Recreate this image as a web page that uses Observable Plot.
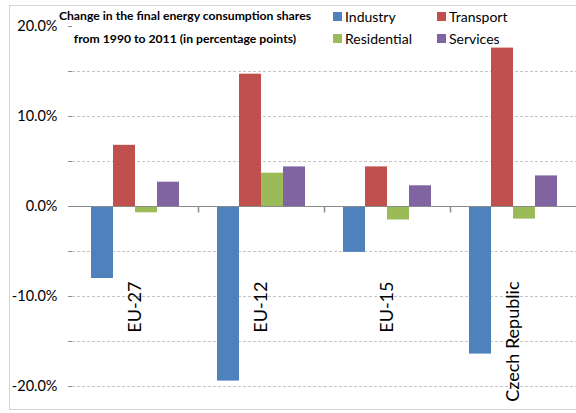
<!DOCTYPE html>
<html>
<head>
<meta charset="utf-8">
<script src="https://cdn.jsdelivr.net/npm/d3@7"></script>
<script src="https://cdn.jsdelivr.net/npm/@observablehq/plot@0.6"></script>
<style>
  html, body { margin: 0; padding: 0; background: #fff; }
  #wrap { position: relative; width: 576px; height: 413px; overflow: hidden; font-family: Lato, "DejaVu Sans", sans-serif; }
  #frame { position: absolute; left: 9px; top: 5px; width: 600px; height: 405px; border: 1px solid #d4d4d4; box-sizing: border-box; }
  .ttl { position: absolute; font-weight: bold; font-size: 12.2px; color: #000; white-space: nowrap; text-align: center; width: 320px; left: 25px; }
  .lg { position: absolute; font-size: 14px; color: #000; white-space: nowrap; line-height: 1; }
  .sw { position: absolute; width: 9px; height: 9px; }
  svg { position: absolute; left: 0; top: 0; }
</style>
</head>
<body>
<div id="wrap">
  <div id="frame"></div>
</div>
<script>
const categories = ["EU-27", "EU-12", "EU-15", "Czech Republic"];
const series = ["Industry", "Transport", "Residential", "Services"];
const colors = ["#4F81BD", "#C0504D", "#9BBB59", "#8064A2"];
const industry    = [-8.0, -19.4, -5.1, -16.4];
const transport   = [6.8, 14.7, 4.4, 17.6];
const residential = [-0.7, 3.7, -1.5, -1.4];
const services    = [2.7, 4.4, 2.3, 3.4];
const yTicks = [-20, -15, -10, -5, 0, 5, 10, 15, 20];
const gridValues = [-20, -15, -10, -5, 5, 10, 15];
const titleLines = ["Change in the final energy consumption  shares", "from 1990 to 2011 (in percentage points)"];

const valuesBySeries = [industry, transport, residential, services];
const data = categories.flatMap((c, i) => series.map((s, j) => ({category: c, series: s, value: valuesBySeries[j][i]})));
const boundaries = categories.slice(1);

const tickSym = { draw(ctx) { ctx.moveTo(0, 0); ctx.lineTo(0, 6); } };

const chart = Plot.plot({
  width: 576, height: 413,
  marginLeft: 72, marginRight: 0, marginTop: 26, marginBottom: 27,
  fx: {domain: categories, padding: 0, axis: null},
  x: {domain: series, paddingInner: 0, paddingOuter: 0.8, axis: null},
  y: {domain: [-20, 20], axis: null},
  color: {domain: series, range: colors},
  style: {fontFamily: "Lato, sans-serif", background: "transparent", overflow: "visible"},
  marks: [
    Plot.ruleY(gridValues, {stroke: "#c4c4c4", strokeDasharray: "3,2"}),
    Plot.barY(data, {fx: "category", x: "series", y: "value", fill: "series"}),
    Plot.ruleY([0], {stroke: "#8a8a8a"}),
    Plot.dot(boundaries, {fx: d => d, y: d => 0, frameAnchor: "left", symbol: tickSym, stroke: "#8a8a8a", fill: "none"}),
    Plot.text(categories, {fx: d => d, text: d => d, frameAnchor: "bottom", dy: -105, rotate: -90, textAnchor: "end", lineAnchor: "middle", fontSize: 18, fill: "#000"}),
    Plot.axisY({ticks: yTicks, tickFormat: d => d % 10 === 0 ? d.toFixed(1) + "%" : "", tickSize: 4, tickPadding: 11, fontSize: 14.5, stroke: "#8a8a8a", fill: "#000", line: true, anchor: "left", label: null})
  ]
});

const wrap = document.getElementById("wrap");
wrap.appendChild(chart);

// title
titleLines.forEach((t, i) => {
  const d = document.createElement("div");
  d.className = "ttl";
  d.textContent = t;
  d.style.top = (i === 0 ? 8 : 31) + "px";
  wrap.appendChild(d);
});

// legend
const color = chart.scale("color");
const legendPos = [[333, 12], [437, 12], [333, 34], [437, 34]];
series.forEach((s, i) => {
  const [lx, ly] = legendPos[i];
  const sw = document.createElement("div");
  sw.className = "sw";
  sw.style.left = lx + "px"; sw.style.top = ly + "px";
  sw.style.background = color.apply(s);
  wrap.appendChild(sw);
  const lb = document.createElement("div");
  lb.className = "lg";
  lb.textContent = s;
  lb.style.left = (lx + 12) + "px"; lb.style.top = (ly - 2) + "px";
  wrap.appendChild(lb);
});
</script>
</body>
</html>
